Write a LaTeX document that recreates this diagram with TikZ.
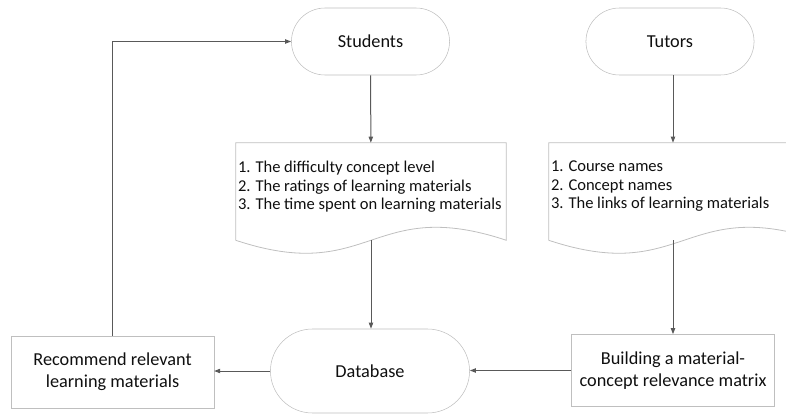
\documentclass[tikz,border=0pt]{standalone}
\usepackage{fontspec}
\setmainfont{Carlito}
\usetikzlibrary{arrows.meta,shapes.misc,calc}
\definecolor{flowGray}{RGB}{89,89,89}
\definecolor{edgeGray}{RGB}{191,191,191}
\definecolor{inkGray}{RGB}{15,15,15}

\begin{document}
\begin{tikzpicture}[
    x=0.75pt, y=-0.75pt,
    term/.style={draw=edgeGray, rounded rectangle, minimum height=50.25pt,
                 font=\fontsize{13.7}{16.7}\selectfont, text=inkGray},
    proc/.style={draw=edgeGray, align=center, minimum width=152pt, minimum height=54pt,
                 font=\fontsize{13.7}{16.7}\selectfont, text=inkGray},
    docbox/.style={minimum width=202.5pt, minimum height=72.75pt, inner sep=0pt},
    doctext/.style={align=left, anchor=north west, inner xsep=1.5pt, inner ysep=13.5pt,
                    font=\fontsize{12.4}{13.9}\selectfont, text=inkGray},
    docline/.style={draw=edgeGray, line width=0.6pt},
    flow/.style={draw=flowGray, line width=0.75pt, -{Triangle[length=4.5pt,width=3.2pt]}}
]
    \useasboundingbox (0,0) rectangle (786,414);
    \clip (0,0) rectangle (786,414);

    \node[term, minimum width=125.25pt] (students) at (370.5,41.5) {Students};
    \node[term, minimum width=132.75pt] (tutors) at (670,41.5) {Tutors};

    \node[docbox] (sdoc) at (371,191.5) {};
    \node[docbox] (tdoc) at (684,191.5) {};
    \foreach \d in {sdoc,tdoc}
        \draw[docline] (\d.south west) |- (\d.north east) -- (\d.south east)
            .. controls ($(\d.south)+(0,-45)$) and ($(\d.south)+(0,45)$) .. (\d.south west);
    \node[doctext] (stext) at (sdoc.north west) {1. The difficulty concept level\\2. The ratings of learning materials\\3. The time spent on learning materials};
    \node[doctext] (ttext) at (tdoc.north west) {1. Course names\\2. Concept names\\3. The links of learning materials};

    \node[term, minimum width=156pt, minimum height=63pt] (db) at (370,371) {Database};
    \node[proc] (recom) at (112.5,372) {Recommend relevant\\learning materials};
    \node[proc] (build) at (673,370.5) {Building a material-\\concept relevance matrix};

    \draw[flow] (students) -- (sdoc);
    \draw[flow] (tutors.south -| build) -- (tdoc.north -| build);
    \draw[flow] (sdoc.south) -- (sdoc.south |- db.north);
    \draw[flow] (tdoc.south -| build) -- (build);
    \draw[flow] (build.west) -- (build.west -| db.east);
    \draw[flow] (db.west) -- (db.west -| recom.east);
    \draw[flow] (recom.north) |- (students.west);
\end{tikzpicture}
\end{document}
